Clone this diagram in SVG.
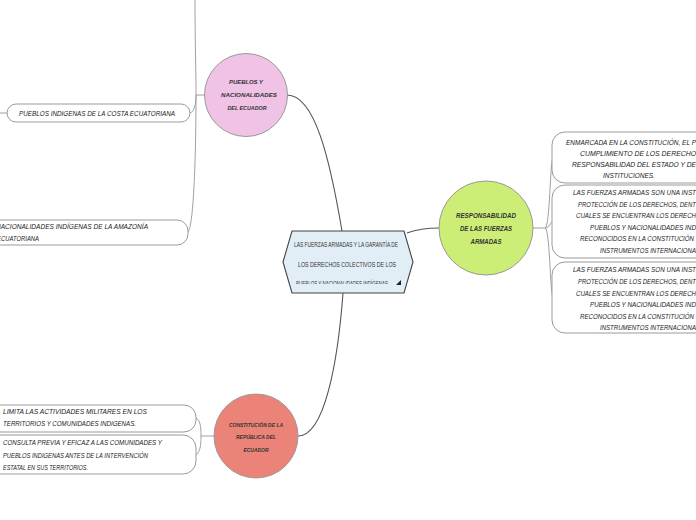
<svg xmlns="http://www.w3.org/2000/svg" width="696" height="520" viewBox="0 0 696 520">
<defs>
<style>
.t{font-family:"Liberation Sans",Arial,sans-serif;font-style:italic;font-size:6.8px;fill:#222}
.c{font-family:"Liberation Sans",Arial,sans-serif;font-style:italic;font-weight:bold;font-size:5.4px;fill:#333;text-anchor:middle}
.r{font-family:"Liberation Sans",Arial,sans-serif;font-style:italic;font-weight:bold;font-size:7.6px;fill:#333;text-anchor:middle}
.m{font-family:"Liberation Sans",Arial,sans-serif;font-size:6.6px;fill:#333}
.box{fill:#fff;stroke:#9a9a9a;stroke-width:1}
.main{fill:none;stroke:#555;stroke-width:1.1}
.sub{fill:none;stroke:#a0a0a0;stroke-width:1}
</style>
<clipPath id="cc"><rect x="283" y="231" width="130" height="53"/></clipPath>
</defs>
<g id="connectors">
<path class="main" d="M342,231 C330,160 315,95 287,95"/>
<path class="main" d="M343,293 C338,360 325,436 298,436"/>
<path class="main" d="M407,233 C418,229 428,228 439,228"/>
<path class="sub" d="M205,95 H196"/>
<path class="sub" d="M195,0 C195,40 196,70 196,95"/>
<path class="sub" d="M196,95 C196,105 194,112 190,113"/>
<path class="sub" d="M196,95 C196,150 194,225 188,232"/>
<path class="sub" d="M214,436 H201"/>
<path class="sub" d="M201,436 C201,426 200,420 196,418"/>
<path class="sub" d="M201,436 C201,446 200,452 196,455"/>
<path class="sub" d="M533,228 H545"/>
<path class="sub" d="M545,228 C550,228 550,160 553,158"/>
<path class="sub" d="M545,228 C550,228 550,222 553,221"/>
<path class="sub" d="M545,228 C550,228 550,295 553,297"/>
<path class="sub" d="M0,113 H7"/>
</g>
<g id="central">
<polygon points="283,262 292,231 404,231 413,262 404,293 292,293" fill="#e2eef5" stroke="#444" stroke-width="1.1"/>
<text class="m" x="294" y="247" textLength="104" lengthAdjust="spacingAndGlyphs">LAS FUERZAS ARMADAS Y LA GARANTÍA DE</text>
<text class="m" x="298" y="267" textLength="98" lengthAdjust="spacingAndGlyphs">LOS DERECHOS COLECTIVOS DE LOS</text>
<g clip-path="url(#cc)"><text class="m" x="296" y="286" textLength="92" lengthAdjust="spacingAndGlyphs">PUEBLOS Y NACIONALIDADES INDÍGENAS</text></g>
<polygon points="396,285 401,285 401,280" fill="#222"/>
</g>
<g id="pueblos">
<circle cx="246" cy="95" r="41.5" fill="#f0c2e6" stroke="#999" stroke-width="1"/>
<text class="c" x="246" y="84" textLength="34" lengthAdjust="spacingAndGlyphs">PUEBLOS Y</text>
<text class="c" x="249" y="97" textLength="56" lengthAdjust="spacingAndGlyphs">NACIONALIDADES</text>
<text class="c" x="247" y="110" textLength="39" lengthAdjust="spacingAndGlyphs">DEL ECUADOR</text>
</g>
<g id="costa">
<rect class="box" x="7" y="104" width="183" height="18" rx="9"/>
<text class="t" x="19" y="116" textLength="156" lengthAdjust="spacingAndGlyphs">PUEBLOS INDIGENAS DE LA COSTA ECUATORIANA</text>
</g>
<g id="amazonia">
<rect class="box" x="-20" y="220" width="208" height="25" rx="11"/>
<text class="t" x="-4" y="229" textLength="152" lengthAdjust="spacingAndGlyphs">NACIONALIDADES INDÍGENAS DE LA AMAZONÍA</text>
<text class="t" x="-3" y="241" textLength="42" lengthAdjust="spacingAndGlyphs">ECUATORIANA</text>
</g>
<g id="responsabilidad">
<circle cx="486" cy="228" r="47" fill="#ccee77" stroke="#999" stroke-width="1"/>
<text class="r" x="486" y="218" textLength="60" lengthAdjust="spacingAndGlyphs">RESPONSABILIDAD</text>
<text class="r" x="486" y="231" textLength="52" lengthAdjust="spacingAndGlyphs">DE LAS FUERZAS</text>
<text class="r" x="486" y="244" textLength="31" lengthAdjust="spacingAndGlyphs">ARMADAS</text>
</g>
<g id="enmarcada">
<rect class="box" x="552" y="132" width="170" height="51" rx="13"/>
<text class="t" x="566" y="145" textLength="130" lengthAdjust="spacingAndGlyphs">ENMARCADA EN LA CONSTITUCIÓN, EL P</text>
<text class="t" x="580" y="156" textLength="116" lengthAdjust="spacingAndGlyphs">CUMPLIMIENTO DE LOS DERECHO</text>
<text class="t" x="572" y="167" textLength="124" lengthAdjust="spacingAndGlyphs">RESPONSABILIDAD DEL ESTADO Y DE</text>
<text class="t" x="603" y="178" textLength="52" lengthAdjust="spacingAndGlyphs">INSTITUCIONES.</text>
</g>
<g id="fuerzas1">
<rect class="box" x="552" y="185" width="170" height="73" rx="13"/>
<text class="t" x="573" y="195" textLength="123" lengthAdjust="spacingAndGlyphs">LAS FUERZAS ARMADAS SON UNA INST</text>
<text class="t" x="578" y="207" textLength="118" lengthAdjust="spacingAndGlyphs">PROTECCIÓN DE LOS DERECHOS, DENT</text>
<text class="t" x="576" y="218" textLength="120" lengthAdjust="spacingAndGlyphs">CUALES SE ENCUENTRAN LOS DERECH</text>
<text class="t" x="590" y="230" textLength="106" lengthAdjust="spacingAndGlyphs">PUEBLOS Y NACIONALIDADES IND</text>
<text class="t" x="580" y="241" textLength="114" lengthAdjust="spacingAndGlyphs">RECONOCIDOS EN LA CONSTITUCIÓN</text>
<text class="t" x="600" y="253" textLength="96" lengthAdjust="spacingAndGlyphs">INSTRUMENTOS INTERNACIONA</text>
</g>
<g id="fuerzas2">
<rect class="box" x="552" y="262" width="170" height="71" rx="13"/>
<text class="t" x="573" y="272" textLength="123" lengthAdjust="spacingAndGlyphs">LAS FUERZAS ARMADAS SON UNA INST</text>
<text class="t" x="578" y="284" textLength="118" lengthAdjust="spacingAndGlyphs">PROTECCIÓN DE LOS DERECHOS, DENT</text>
<text class="t" x="576" y="296" textLength="120" lengthAdjust="spacingAndGlyphs">CUALES SE ENCUENTRAN LOS DERECH</text>
<text class="t" x="590" y="307" textLength="106" lengthAdjust="spacingAndGlyphs">PUEBLOS Y NACIONALIDADES IND</text>
<text class="t" x="580" y="319" textLength="114" lengthAdjust="spacingAndGlyphs">RECONOCIDOS EN LA CONSTITUCIÓN</text>
<text class="t" x="600" y="330" textLength="96" lengthAdjust="spacingAndGlyphs">INSTRUMENTOS INTERNACIONA</text>
</g>
<g id="constitucion">
<circle cx="256" cy="436" r="42" fill="#ec8378" stroke="#999" stroke-width="1"/>
<text class="c" x="256" y="427" textLength="54" lengthAdjust="spacingAndGlyphs">CONSTITUCIÓN DE LA</text>
<text class="c" x="256" y="439" textLength="40" lengthAdjust="spacingAndGlyphs">REPÚBLICA DEL</text>
<text class="c" x="256" y="452" textLength="25" lengthAdjust="spacingAndGlyphs">ECUADOR</text>
</g>
<g id="limita">
<rect class="box" x="-20" y="405" width="216" height="27" rx="12"/>
<text class="t" x="3" y="414" textLength="144" lengthAdjust="spacingAndGlyphs">LIMITA LAS ACTIVIDADES MILITARES EN LOS</text>
<text class="t" x="3" y="426" textLength="133" lengthAdjust="spacingAndGlyphs">TERRITORIOS Y COMUNIDADES INDIGENAS.</text>
</g>
<g id="consulta">
<rect class="box" x="-20" y="435" width="216" height="39" rx="13"/>
<text class="t" x="3" y="445" textLength="159" lengthAdjust="spacingAndGlyphs">CONSULTA PREVIA Y EFICAZ A LAS COMUNIDADES Y</text>
<text class="t" x="3" y="458" textLength="145" lengthAdjust="spacingAndGlyphs">PUEBLOS INDIGENAS ANTES DE LA INTERVENCIÓN</text>
<text class="t" x="3" y="470" textLength="85" lengthAdjust="spacingAndGlyphs">ESTATAL EN SUS TERRITORIOS.</text>
</g>
</svg>
